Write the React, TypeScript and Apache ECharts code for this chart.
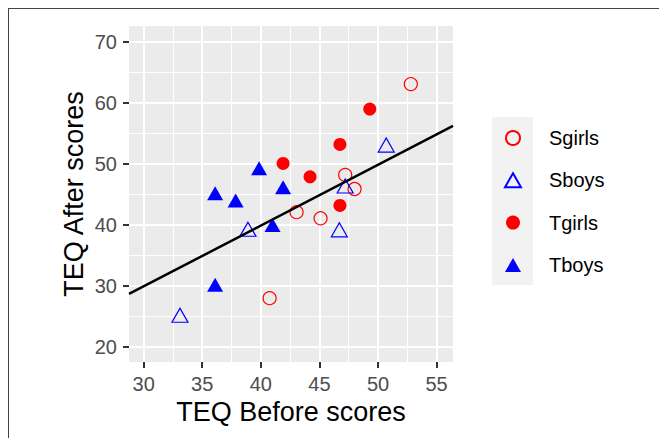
import React, { useEffect, useRef } from "react";
import * as echarts from "echarts";

const xMajorTicks = [30, 35, 40, 45, 50, 55];
const xMinorTicks = [32.5, 37.5, 42.5, 47.5, 52.5];
const yMajorTicks = [20, 30, 40, 50, 60, 70];
const yMinorTicks = [25, 35, 45, 55, 65];

const sgirls = [
  [52.8, 63.1], [47.2, 48.2], [48.0, 45.9], [43.05, 42.1], [45.1, 41.1], [40.75, 28.0],
];
const sboys = [
  [50.7, 53.1], [47.2, 46.4], [38.9, 39.3], [46.7, 39.2], [33.1, 25.2],
];
const tgirls = [
  [49.3, 59.0], [46.75, 53.2], [41.9, 50.1], [44.2, 47.9], [46.75, 43.2],
];
const tboys = [
  [39.85, 49.3], [36.1, 45.2], [37.85, 44.0], [41.9, 46.2], [41.0, 40.0], [36.1, 30.2],
];
const fitLine = [
  [28.75, 28.7], [56.4, 56.23],
];

const FONT = "'Liberation Sans', Arial, sans-serif";

export default function App() {
  const ref = useRef<HTMLDivElement>(null);
  useEffect(() => {
    if (!ref.current) return;
    const chart = echarts.init(ref.current, null, { renderer: "svg" });
    const xRange = { min: 28.75, max: 56.4 };
    const yRange = { min: 17.54, max: 72.62 };
    const minorAxis = (range: any, ticks: number[]) => ({
      type: "value",
      ...range,
      axisLine: { show: false },
      axisLabel: { show: false, customValues: ticks },
      axisTick: { show: false, customValues: ticks },
      splitLine: { show: true, lineStyle: { color: "#ffffff", width: 1 } },
    });
    chart.setOption({
      animation: false,
      backgroundColor: "#ffffff",
      textStyle: { fontFamily: FONT },
      grid: {
        left: 129, top: 26, width: 324, height: 336,
        show: true, backgroundColor: "#EBEBEB", borderWidth: 0,
        containLabel: false,
      },
      legend: {
        data: ["Sgirls", "Sboys", "Tgirls", "Tboys"],
        orient: "vertical",
        left: 504, top: 128,
        itemWidth: 16, itemHeight: 14, itemGap: 22.3,
        padding: 0,
        textStyle: { fontSize: 20, color: "#000000", fontFamily: FONT, padding: [0, 0, 0, 23] },
      },
      graphic: [
        { type: "rect", shape: { x: 492, y: 117, width: 41, height: 168 }, style: { fill: "#F2F2F2" }, z: -1 },
        { type: "line", shape: { x1: 8.5, y1: 8, x2: 8.5, y2: 438 }, style: { stroke: "#444444", lineWidth: 1 } },
        { type: "line", shape: { x1: 8, y1: 8.5, x2: 659, y2: 8.5 }, style: { stroke: "#444444", lineWidth: 1 } },
      ],
      xAxis: [
        {
          type: "value",
          ...xRange,
          name: "TEQ Before scores",
          nameLocation: "middle",
          nameGap: 36,
          nameTextStyle: { fontSize: 27, color: "#000000", fontFamily: FONT },
          axisLine: { show: false },
          axisTick: { show: true, customValues: xMajorTicks, length: 6, lineStyle: { color: "#333333", width: 2 } },
          axisLabel: { customValues: xMajorTicks, fontSize: 20, color: "#4D4D4D", margin: 12, fontFamily: FONT },
          splitLine: { show: true, lineStyle: { color: "#ffffff", width: 2 } },
          z: 2,
        },
        minorAxis(xRange, xMinorTicks),
      ],
      yAxis: [
        {
          type: "value",
          ...yRange,
          name: "TEQ After scores",
          nameLocation: "middle",
          nameGap: 42,
          nameTextStyle: { fontSize: 27, color: "#000000", fontFamily: FONT },
          axisLine: { show: false },
          axisTick: { show: true, customValues: yMajorTicks, length: 6, lineStyle: { color: "#333333", width: 2 } },
          axisLabel: { customValues: yMajorTicks, fontSize: 20, color: "#4D4D4D", margin: 12, fontFamily: FONT },
          splitLine: { show: true, lineStyle: { color: "#ffffff", width: 2 } },
          z: 2,
        },
        minorAxis(yRange, yMinorTicks),
      ],
      series: [
        {
          name: "Sgirls", type: "scatter", data: sgirls, symbol: "circle", symbolSize: 13,
          itemStyle: { color: "rgba(0,0,0,0)", borderColor: "#FF0000", borderWidth: 1.2, opacity: 1 },
          z: 5,
        },
        {
          name: "Sboys", type: "scatter", data: sboys, symbol: "triangle", symbolSize: [16, 14],
          itemStyle: { color: "rgba(0,0,0,0)", borderColor: "#0000FF", borderWidth: 1.2, opacity: 1 },
          z: 5,
        },
        {
          name: "Tgirls", type: "scatter", data: tgirls, symbol: "circle", symbolSize: 13,
          itemStyle: { color: "#FF0000", opacity: 1 },
          z: 5,
        },
        {
          name: "Tboys", type: "scatter", data: tboys, symbol: "triangle", symbolSize: [16, 14],
          itemStyle: { color: "#0000FF", opacity: 1 },
          z: 5,
        },
        {
          name: "fit", type: "line", data: fitLine, symbol: "none",
          lineStyle: { color: "#000000", width: 2.5 },
          silent: true, z: 6,
        },
      ],
    });
    return () => chart.dispose();
  }, []);
  return (
    <div
      ref={ref}
      style={{ position: "fixed", left: 0, top: 0, width: 659, height: 438 }}
    />
  );
}
